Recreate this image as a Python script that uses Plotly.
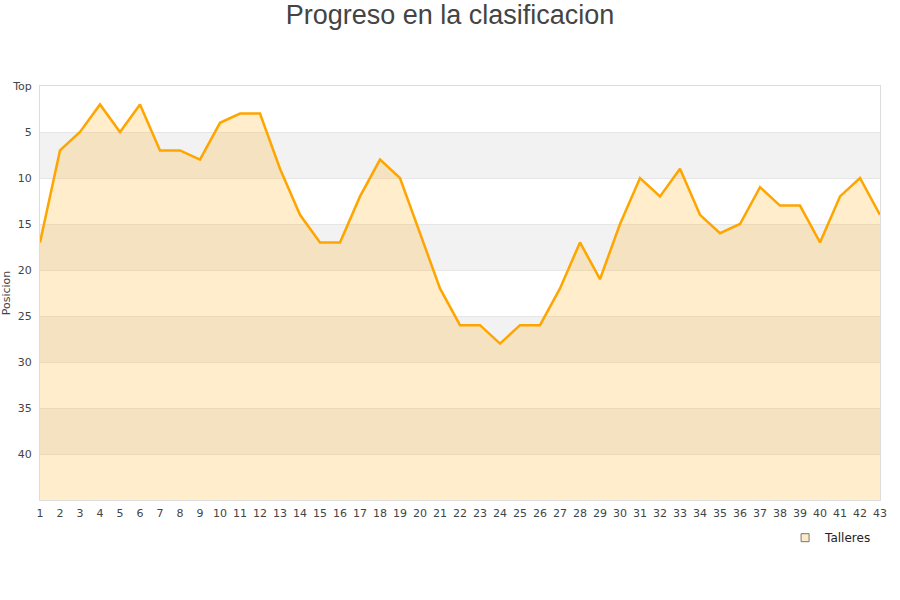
import plotly.graph_objects as go

jornadas = list(range(1, 44))
posiciones = [17, 7, 5, 2, 5, 2, 7, 7, 8, 4, 3, 3, 9, 14, 17, 17, 12, 8, 10, 16,
              22, 26, 26, 28, 26, 26, 22, 17, 21, 15, 10, 12, 9, 14, 16, 15, 11, 13, 13, 17,
              12, 10, 14]
y_ticks = [0, 5, 10, 15, 20, 25, 30, 35, 40]
y_labels = ["Top", "5", "10", "15", "20", "25", "30", "35", "40"]
fondo = 45

fig = go.Figure()

# base invisible para rellenar hacia abajo (eje invertido)
fig.add_trace(go.Scatter(x=jornadas, y=[fondo] * len(jornadas), mode="lines",
                         line=dict(width=0), showlegend=False, hoverinfo="skip"))
fig.add_trace(go.Scatter(x=jornadas, y=posiciones, mode="lines", name="Talleres",
                         line=dict(color="#FFA500", width=2.5),
                         fill="tonexty", fillcolor="rgba(255,165,0,0.2)",
                         showlegend=False))
# solo para la leyenda
fig.add_trace(go.Scatter(x=[None], y=[None], mode="markers", name="Talleres",
                         marker=dict(symbol="square", size=8, color="#FDEBC8",
                                     line=dict(color="#777", width=1))))

# bandas grises alternas
for y0 in [5, 15, 25, 35]:
    fig.add_shape(type="rect", xref="paper", yref="y", x0=0, x1=1, y0=y0, y1=y0 + 5,
                  fillcolor="#F2F2F2", line_width=0, layer="below")

fig.update_layout(
    width=900, height=600,
    paper_bgcolor="white", plot_bgcolor="white",
    margin=dict(l=40, r=20, t=86, b=100),
    font=dict(family="DejaVu Sans", size=11, color="#444"),
    title=dict(text="Progreso en la clasificacion", x=0.5, xanchor="center",
               y=0.975, yanchor="middle",
               font=dict(family="Liberation Sans", size=27, color="#444")),
    legend=dict(x=0.887, xanchor="left", y=-0.056, yanchor="top",
                bgcolor="rgba(0,0,0,0)", font=dict(size=12, color="#222")),
)
fig.update_xaxes(range=[1, 43], tickmode="array", tickvals=jornadas,
                 showgrid=False, zeroline=False, ticks="", automargin=False,
                 ticklabelstandoff=3,
                 showline=True, linecolor="#DDDDDD", mirror=True,
                 tickfont=dict(size=11, color="#444"))
fig.update_yaxes(range=[fondo, 0], tickmode="array", tickvals=y_ticks, ticktext=y_labels,
                 showgrid=True, gridcolor="#E6E6E6", zeroline=False, ticks="", automargin=False,
                 ticklabelstandoff=5,
                 showline=True, linecolor="#DDDDDD", mirror=True,
                 title=dict(text="Posicion", font=dict(size=11, color="#444"), standoff=4),
                 tickfont=dict(size=11, color="#444"))

# quitar el margen de 8px del body para que el grafico empiece en (0, 0)
fig.write_html("out.html", config={"displayModeBar": False},
               post_script="document.body.style.margin = '0';")
